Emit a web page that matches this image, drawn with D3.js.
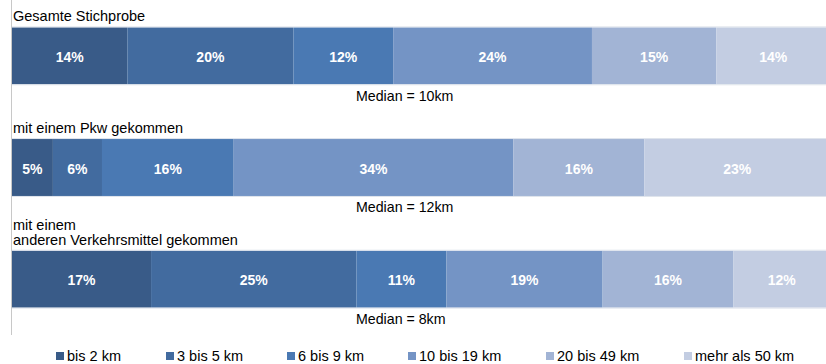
<!DOCTYPE html>
<html><head><meta charset="utf-8">
<script src="https://cdn.jsdelivr.net/npm/d3@7"></script>
<style>
html,body{margin:0;padding:0;background:#fff;}
svg{display:block;font-family:"Liberation Sans",Arial,sans-serif;}
</style></head>
<body><svg id="c" width="826" height="364"></svg>
<script>
const categories = ["Gesamte Stichprobe", "mit einem Pkw gekommen", "mit einem\nanderen Verkehrsmittel gekommen"];
const medians = ["Median = 10km", "Median = 12km", "Median = 8km"];
const seriesNames = ["bis 2 km", "3 bis 5 km", "6 bis 9 km", "10 bis 19 km", "20 bis 49 km", "mehr als 50 km"];
const bis2 = [14.1, 5.0, 17.0];
const bis5 = [20.3, 6.0, 25.1];
const bis9 = [12.2, 16.1, 11.0];
const bis19 = [24.3, 34.2, 19.1];
const bis49 = [15.2, 16.0, 16.0];
const mehr50 = [13.9, 22.7, 11.8];
const seriesValues = [bis2, bis5, bis9, bis19, bis49, mehr50];
const colors = ["#395b88", "#426b9f", "#4a79b3", "#7494c5", "#a2b4d5", "#c3cde2"];

const svg = d3.select("#c");
const x = d3.scaleLinear().domain([0, 100]).range([12, 830]);
const y = d3.scaleBand().domain(categories).range([0, 335]).paddingInner(0.49).paddingOuter(0.245);

const stackData = categories.map((c, i) => {
  const o = {cat: c};
  seriesNames.forEach((s, j) => o[s] = seriesValues[j][i]);
  return o;
});
const stacked = d3.stack().keys(seriesNames)(stackData);

// axis line
svg.append("line").attr("x1", 11.5).attr("x2", 11.5).attr("y1", 0).attr("y2", 335)
  .attr("stroke", "#c8c8c8").attr("stroke-width", 1);

stacked.forEach((layer, j) => {
  const g = svg.append("g");
  g.selectAll("rect").data(layer).join("rect")
    .attr("x", d => x(d[0])).attr("width", d => x(d[1]) - x(d[0]))
    .attr("y", d => y(d.data.cat)).attr("height", y.bandwidth())
    .attr("fill", colors[j]);
  g.selectAll("text").data(layer).join("text")
    .attr("x", d => (x(d[0]) + x(d[1])) / 2)
    .attr("y", d => y(d.data.cat) + y.bandwidth() / 2 + 6)
    .attr("text-anchor", "middle")
    .attr("font-size", "14px").attr("font-weight", "bold").attr("fill", "#fff")
    .text(d => Math.round(d[1] - d[0]) + "%");
});

// light edge lines
categories.forEach(c => {
  [y(c) - 0.5, y(c) + y.bandwidth() + 0.5].forEach(yy => {
    svg.append("line").attr("x1", 12).attr("x2", 826).attr("y1", yy).attr("y2", yy)
      .attr("stroke", "#dfe4ec").attr("stroke-width", 1);
  });
});

// category titles
categories.forEach(c => {
  const lines = c.split("\n");
  const base = y(c) - 6;
  lines.forEach((l, k) => {
    svg.append("text").attr("x", 13).attr("y", base - (lines.length - 1 - k) * 15)
      .attr("font-size", "14.5px").attr("fill", "#000").text(l);
  });
});

// medians
categories.forEach((c, i) => {
  svg.append("text").attr("x", 356).attr("y", y(c) + y.bandwidth() + 16.5)
    .attr("font-size", "14.2px").attr("fill", "#000").text(medians[i]);
});

// legend
const legendX = [56, 166, 287, 408, 546, 684];
seriesNames.forEach((s, j) => {
  svg.append("rect").attr("x", legendX[j]).attr("y", 352).attr("width", 8).attr("height", 8).attr("fill", colors[j]);
  svg.append("text").attr("x", legendX[j] + 11).attr("y", 361).attr("font-size", "14.5px").attr("fill", "#000").text(s);
});
</script></body></html>
